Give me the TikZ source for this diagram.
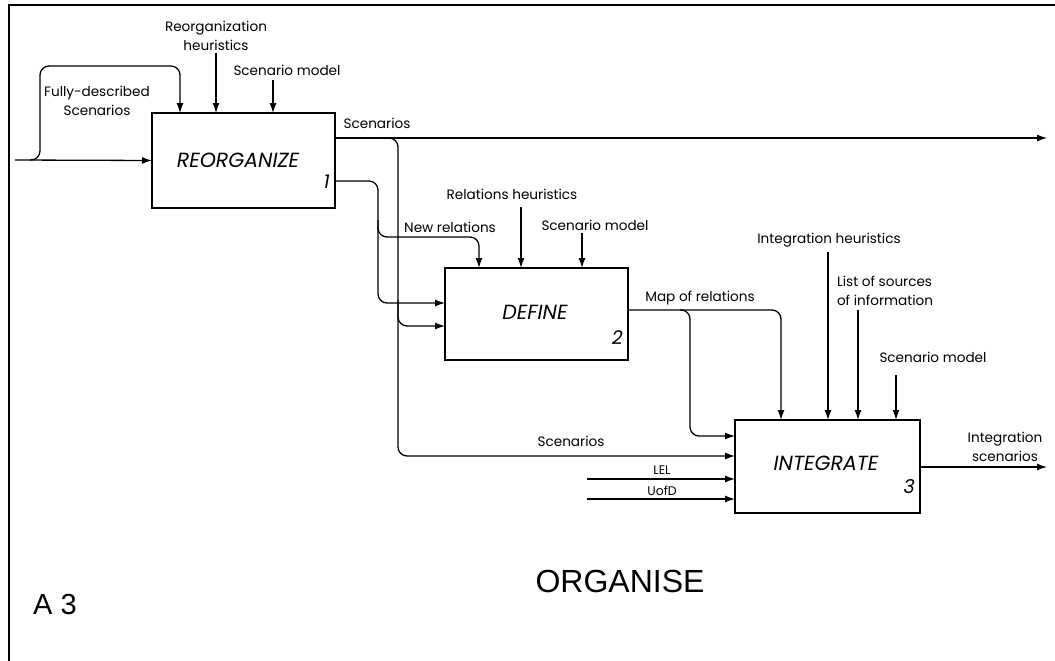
\documentclass[tikz,border=0pt]{standalone}
\usepackage{fontspec}
\setmainfont{Poppins}
\newfontfamily\titlefont{Liberation Sans}
\usetikzlibrary{arrows.meta, positioning, calc}

\begin{document}
\begin{tikzpicture}[x=1pt, y=-1pt,
    box/.style={draw, line width=1.4pt, inner sep=0pt, outer sep=0pt},
    lbl/.style={font=\fontsize{13.6}{19}\selectfont, align=center, inner sep=0pt},
    small/.style={font=\fontsize{12.5}{14}\selectfont, inner sep=0pt},
    title/.style={font=\fontsize{20.5}{24}\selectfont\itshape, inner sep=0pt},
    num/.style={font=\fontsize{19}{22}\selectfont\itshape, anchor=east, inner sep=0pt},
    arrow/.style={-{Latex[length=10pt, width=7pt]}, line width=1.3pt},
    flow/.style={arrow, rounded corners=9pt}
  ]
  \useasboundingbox (0,0) rectangle (1055,661);

  % frame
  \draw[line width=2.2pt] (1055,5) -- (9,5) -- (9,661);

  % activity boxes
  \node[box, minimum width=183pt, minimum height=95pt] (reorg) at (243.5,160.5) {};
  \node[box, minimum width=183pt, minimum height=92pt] (def) at (536.5,314) {};
  \node[box, minimum width=185pt, minimum height=93pt] (integ) at (827.5,466.5) {};

  \node[title] (reorgtxt) at (238,160) {REORGANIZE};
  \node[num] (reorgnum) at (330,182) {1};
  \node[title] (deftxt) at (535,312) {DEFINE};
  \node[num] (defnum) at (623,338) {2};
  \node[title] (integtxt) at (826,463) {INTEGRATE};
  \node[num] (integnum) at (915,487) {3};

  % labels
  \node[lbl] (fdlbl) at (97,101) {Fully-described\\Scenarios};
  \node[lbl] (rhlbl) at (216,36) {Reorganization\\heuristics};
  \node[lbl] (smalbl) at (287,70) {Scenario model};
  \node[lbl] (scalbl) at (377,123) {Scenarios};
  \node[lbl] (nrlbl) at (450,227) {New relations};
  \node[lbl] (relhlbl) at (512,194) {Relations heuristics};
  \node[lbl] (smblbl) at (595,225) {Scenario model};
  \node[lbl] (maplbl) at (700,298) {Map of relations};
  \node[lbl] (ihlbl) at (829,240) {Integration heuristics};
  \node[lbl, align=left] (lslbl) at (885,291) {List of sources\\of information};
  \node[lbl] (smclbl) at (933,357) {Scenario model};
  \node[lbl] (scblbl) at (571,441) {Scenarios};
  \node[small] (lellbl) at (662,470) {LEL};
  \node[small] (uodlbl) at (662,491) {UofD};
  \node[lbl] (isclbl) at (1005,447) {Integration\\scenarios};

  \node[font=\titlefont\fontsize{32}{36}\selectfont, inner sep=0pt] (name) at (620,581) {ORGANISE};
  \node[font=\titlefont\fontsize{29}{32}\selectfont, inner sep=0pt] (nodeno) at (55,605) {A 3};

  % free ends
  \coordinate (in) at (15,160);
  \coordinate (fdfork) at (30,160);
  \coordinate (rhtop) at (216,53);
  \coordinate (smatop) at (273,80);
  \coordinate (scout) at ($(reorg.north east)+(0,25)$);
  \coordinate (scend) at (1047,138);
  \coordinate (scfork) at (388,138);
  \coordinate (scdrop) at (398,300);
  \coordinate (nrout) at ($(reorg.north east)+(0,68)$);
  \coordinate (nrdrop) at (378,220);
  \coordinate (relhtop) at (521,207);
  \coordinate (smbtop) at (582,233);
  \coordinate (mapout) at ($(def.north east)+(0,42)$);
  \coordinate (mapfork) at (680,310);
  \coordinate (ihtop) at (828,252);
  \coordinate (lstop) at (858,310);
  \coordinate (smctop) at (896,375);
  \coordinate (lelsrc) at (587,479);
  \coordinate (uodsrc) at (587,499);
  \coordinate (iout) at ($(integ.north east)+(0,47)$);
  \coordinate (iend) at (1047,467);

  % inputs and outputs of box 1
  \draw[arrow] (in) -- (reorg.west);
  \draw[flow] (fdfork) -- ++(10,0) |- ($(reorg.north west)+(28,-47)$) -- ($(reorg.north west)+(28,0)$);
  \draw[arrow] (rhtop) -- (rhtop |- reorg.north);
  \draw[arrow] (smatop) -- (smatop |- reorg.north);
  \draw[arrow] (scout) -- (scend);
  \draw[flow] (scfork) -- ++(10,0) |- ($(integ.north west)+(0,36)$);
  \draw[flow] (scdrop) |- ($(def.north west)+(0,58)$);
  \draw[flow] (nrout) -- ++(43,0) |- ($(def.north west)+(0,35)$);
  \draw[flow] (nrdrop) |- ($(def.north west)+(34,-31)$) -- ($(def.north west)+(34,0)$);

  % box 2
  \draw[arrow] (relhtop) -- (relhtop |- def.north);
  \draw[arrow] (smbtop) -- (smbtop |- def.north);
  \draw[flow] (mapout) -| ($(integ.north west)+(46,0)$);
  \draw[flow] (mapfork) -- ++(10,0) |- ($(integ.north west)+(0,16)$);

  % box 3
  \draw[arrow] (ihtop) -- (ihtop |- integ.north);
  \draw[arrow] (lstop) -- (lstop |- integ.north);
  \draw[arrow] (smctop) -- (smctop |- integ.north);
  \draw[arrow] (lelsrc) -- (lelsrc -| integ.west);
  \draw[arrow] (uodsrc) -- (uodsrc -| integ.west);
  \draw[arrow] (iout) -- (iend);
\end{tikzpicture}
\end{document}
